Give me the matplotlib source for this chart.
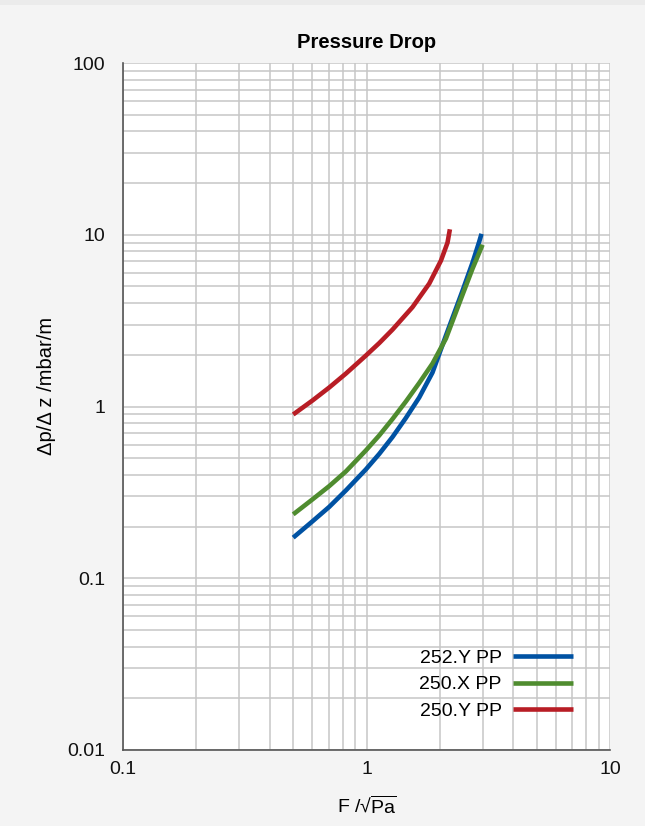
import matplotlib
matplotlib.use("Agg")
import matplotlib.pyplot as plt
from matplotlib.patches import Rectangle
from matplotlib.ticker import FixedLocator, NullFormatter

plt.rcParams['font.family'] = ['Liberation Sans', 'DejaVu Sans']
plt.rcParams['mathtext.fontset'] = 'custom'
plt.rcParams['mathtext.rm'] = 'Liberation Sans'
plt.rcParams['mathtext.it'] = 'Liberation Sans:italic'

# curves (F factor, pressure drop)
x_252y = [0.5, 0.60, 0.703, 0.823, 0.994, 1.128, 1.279, 1.451, 1.646, 1.866, 2.119, 2.48, 2.725, 2.903, 2.967]
y_252y = [0.1724, 0.2145, 0.2604, 0.3248, 0.4302, 0.5296, 0.6647, 0.8573, 1.128, 1.576, 2.587, 4.726, 6.875, 9.106, 10.13]

x_250x = [0.5, 0.60, 0.703, 0.823, 0.994, 1.128, 1.279, 1.451, 1.646, 1.866, 2.119, 2.48, 2.725, 2.903, 2.995]
y_250x = [0.2355, 0.2879, 0.344, 0.4188, 0.5548, 0.6784, 0.8458, 1.069, 1.37, 1.778, 2.485, 4.478, 6.344, 7.858, 8.748]

x_250y = [0.5, 0.60, 0.703, 0.823, 0.994, 1.128, 1.279, 1.545, 1.809, 2.021, 2.151, 2.20]
y_250y = [0.8985, 1.084, 1.29, 1.555, 1.979, 2.34, 2.804, 3.789, 5.189, 7.06, 8.985, 10.76]

labels = ['252.Y PP', '250.X PP', '250.Y PP']
colors = ['#0052a3', '#4f8c2f', '#b81d25']

fig = plt.figure(figsize=(6.45, 8.26), dpi=100, facecolor='#f4f4f4')
fig.patches.append(Rectangle((0, 1 - 5 / 826), 1, 5 / 826, transform=fig.transFigure,
                             facecolor='#ebebeb', edgecolor='none'))
ax = fig.add_axes([123 / 645, 76 / 826, 487 / 645, 687 / 826])
ax.set_facecolor('white')
ax.set_xscale('log')
ax.set_yscale('log')
ax.set_xlim(0.1, 10)
ax.set_ylim(0.01, 100)

minor_x = [m * 10.0 ** e for e in (-1, 0) for m in range(2, 10)]
minor_y = [m * 10.0 ** e for e in (-2, -1, 0, 1) for m in range(2, 10)]
ax.xaxis.set_minor_locator(FixedLocator(minor_x))
ax.yaxis.set_minor_locator(FixedLocator(minor_y))
ax.xaxis.set_minor_formatter(NullFormatter())
ax.yaxis.set_minor_formatter(NullFormatter())
ax.set_xticks([0.1, 1, 10])
ax.set_xticklabels(['0.1', '1', '10'])
ax.set_yticks([0.01, 0.1, 1, 10, 100])
ax.set_yticklabels(['0.01', '0.1', '1', '10', '100'])
ax.grid(True, which='both', color='#c6c6c6', linewidth=1.1)
ax.tick_params(which='both', length=0, labelsize=14, colors='#111111')
ax.tick_params(axis='y', pad=13)
ax.tick_params(axis='x', pad=8)
for s in ('top', 'right'):
    ax.spines[s].set_visible(False)
for s in ('left', 'bottom'):
    ax.spines[s].set_color('#555555')
    ax.spines[s].set_linewidth(1.2)

ax.plot(x_252y, y_252y, color=colors[0], lw=3.3, label=labels[0], solid_capstyle='butt')
ax.plot(x_250x, y_250x, color=colors[1], lw=3.3, label=labels[1], solid_capstyle='butt')
ax.plot(x_250y, y_250y, color=colors[2], lw=3.3, label=labels[2], solid_capstyle='butt')

ax.legend(loc='lower right', bbox_to_anchor=(0.924, 0.044), frameon=False, markerfirst=False,
          fontsize=14, handlelength=3.1, handletextpad=0.57, labelspacing=0.45,
          borderpad=0, borderaxespad=0)

ax.set_title('Pressure Drop', fontsize=14.5, fontweight='bold', pad=11)
ax.set_xlabel('F /\u221a' + r'$\overline{\mathrm{Pa}}$', fontsize=14, labelpad=12)
ax.set_ylabel('\u0394p/\u0394 z /mbar/m', fontsize=14.5)
ax.yaxis.set_label_coords(-0.138, 0.53)

fig.savefig('out.png', dpi=100, facecolor=fig.get_facecolor())
